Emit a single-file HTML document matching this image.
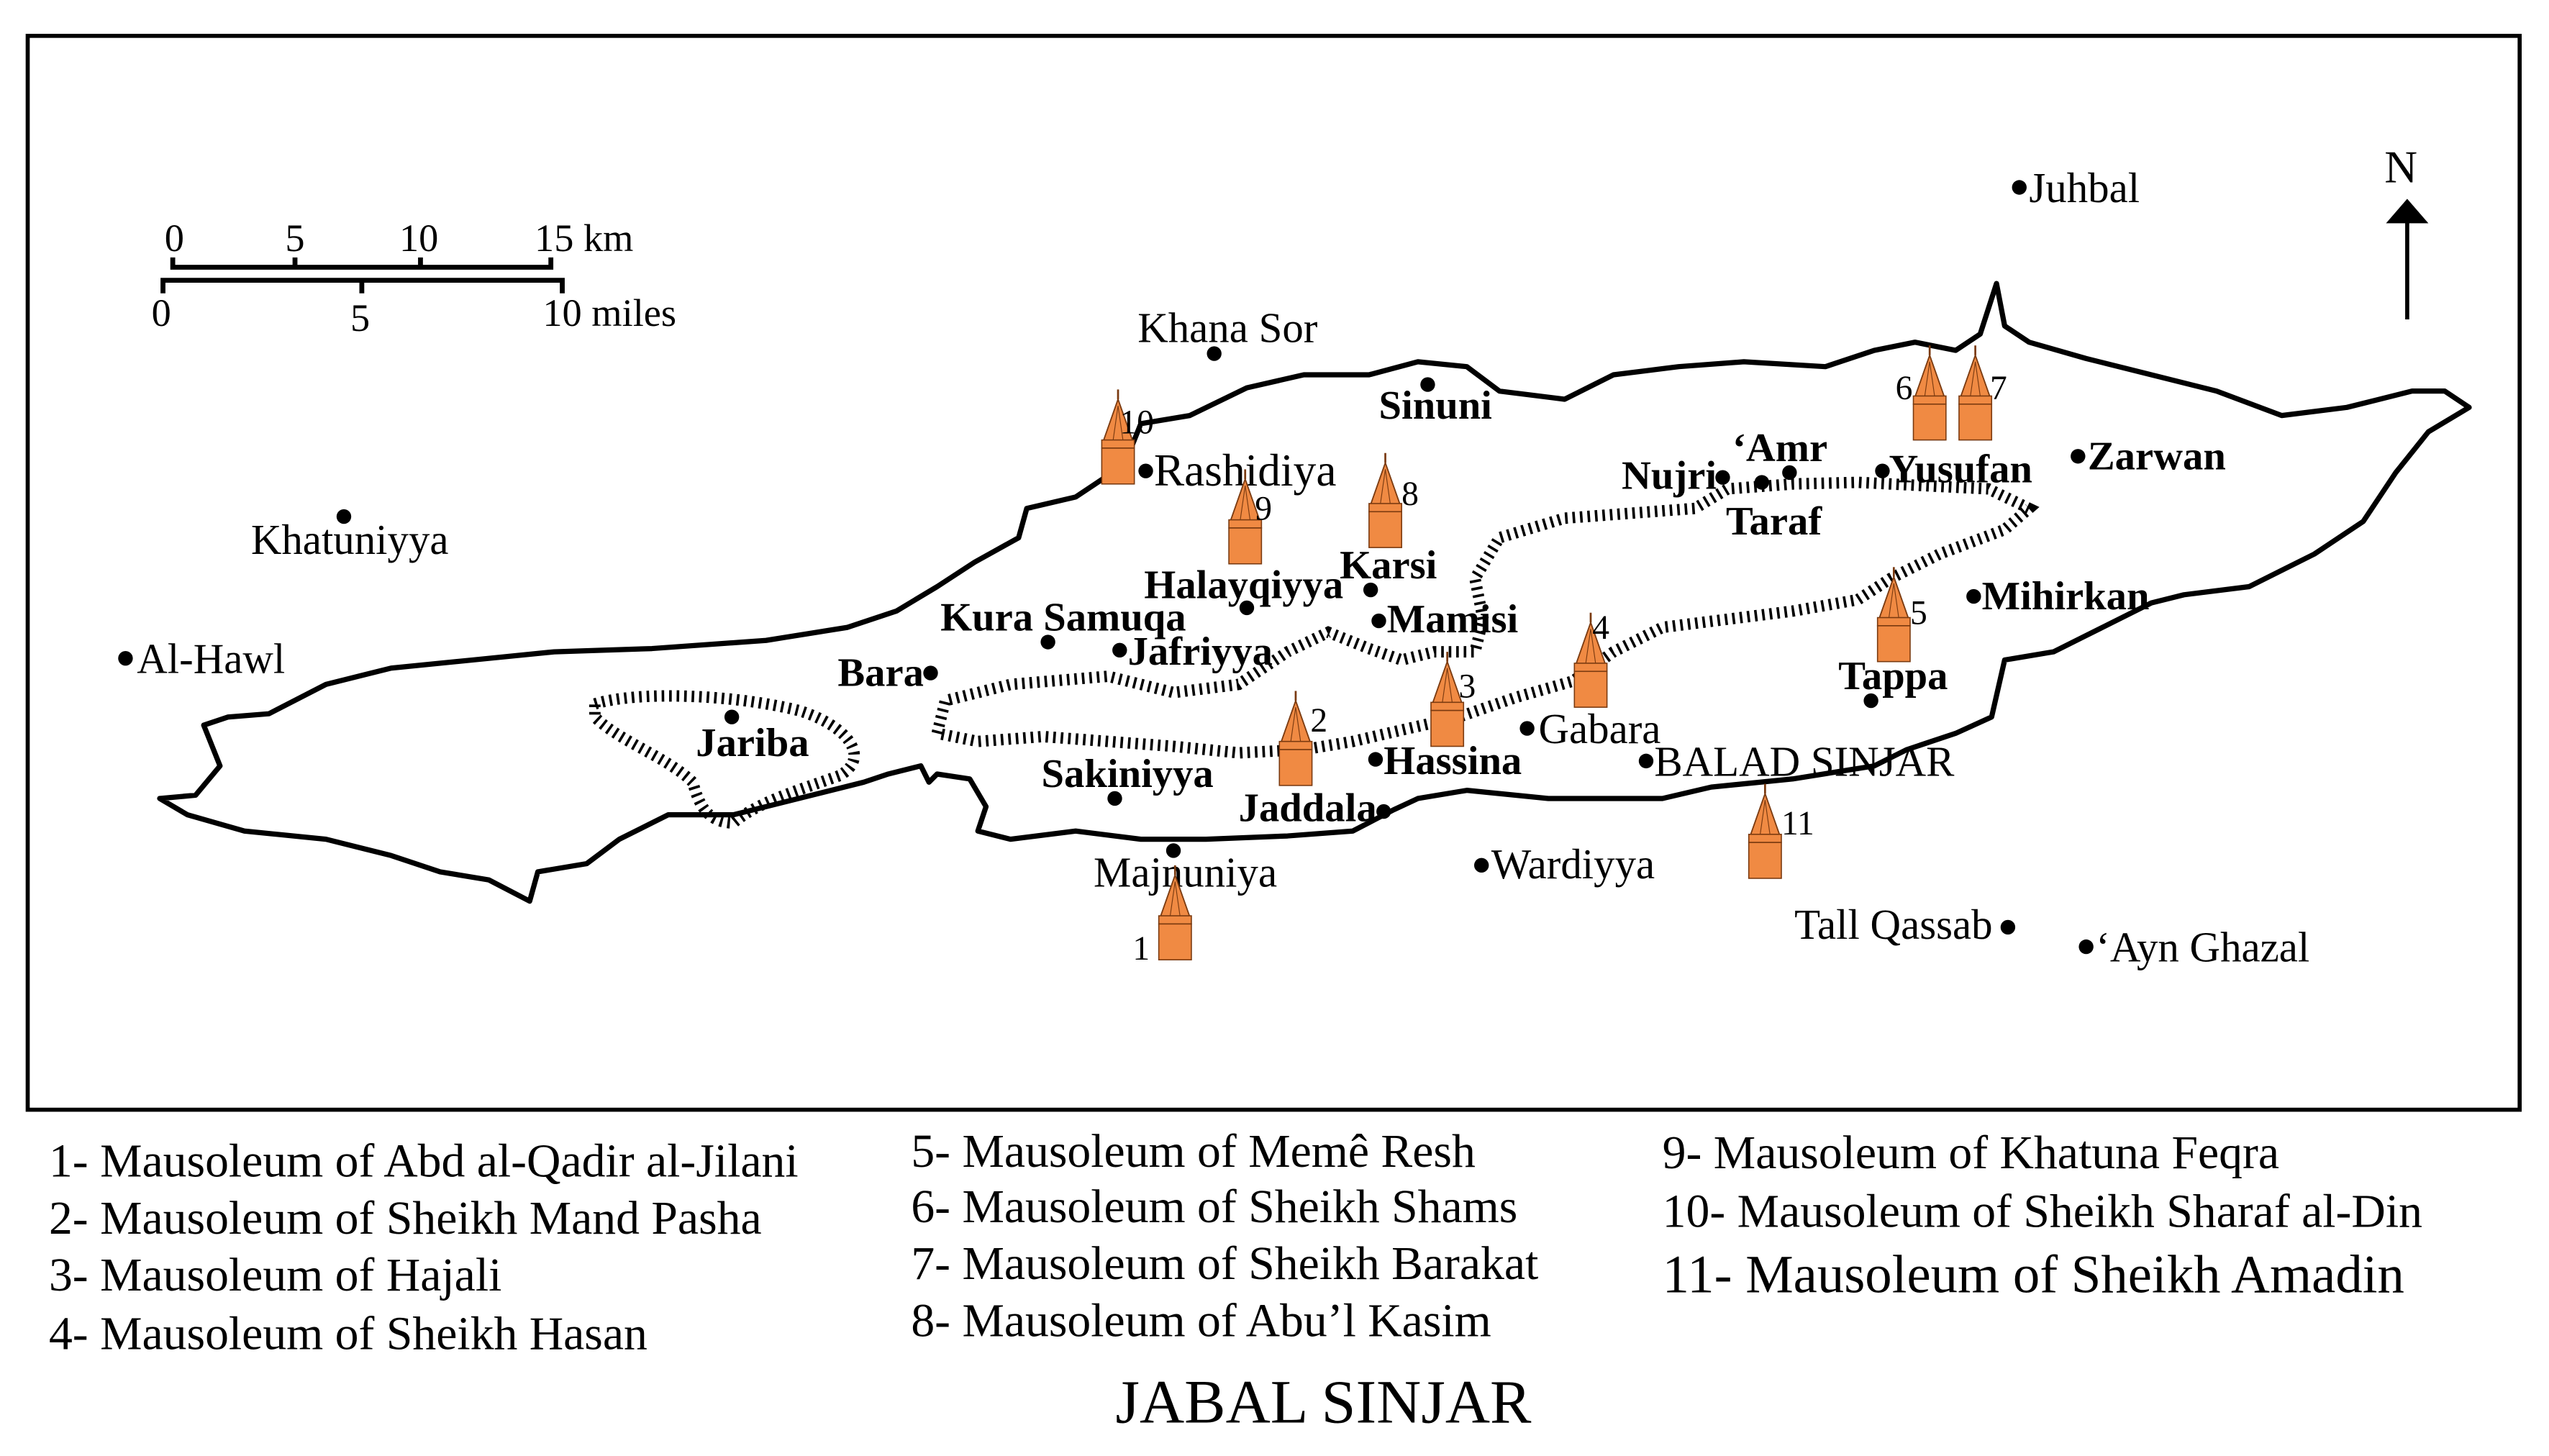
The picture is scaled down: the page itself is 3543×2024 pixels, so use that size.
<!DOCTYPE html>
<html><head><meta charset="utf-8"><style>
html,body{margin:0;padding:0;background:#fff;}
svg{display:block;}
text{font-family:"Liberation Serif",serif;fill:#000;}
.b{font-weight:bold;}
</style></head><body>
<svg width="3543" height="2024" viewBox="0 0 1564 893.5" preserveAspectRatio="none" xmlns="http://www.w3.org/2000/svg">
<defs>
<g id="m">
<polygon points="-9.5,-25 0,-52 9.5,-25" fill="#f08a43" stroke="#7a3a10" stroke-width="0.8"/>
<line x1="0" y1="-52" x2="0" y2="-58" stroke="#7a3a10" stroke-width="1.2"/>
<line x1="-3" y1="-27" x2="0" y2="-48" stroke="#7a3a10" stroke-width="0.5"/>
<line x1="3" y1="-27" x2="0" y2="-48" stroke="#7a3a10" stroke-width="0.5"/>
<rect x="-10" y="-27" width="20" height="5" fill="#f08a43" stroke="#7a3a10" stroke-width="0.7"/>
<rect x="-10" y="-22" width="20" height="22" fill="#f08a43" stroke="#7a3a10" stroke-width="0.7"/>
</g>
</defs>
<rect x="17" y="22" width="1529" height="659" fill="none" stroke="#000" stroke-width="2.5"/>

<g stroke="#000" stroke-width="3" fill="none">
<path d="M106,158 V164 H338 V158"/>
<line x1="181" y1="158" x2="181" y2="164"/>
<line x1="258" y1="158" x2="258" y2="164"/>
<path d="M100,180 V172 H345 V180"/>
<line x1="222" y1="172" x2="222" y2="180"/>
</g>
<g font-size="24">
<text x="101" y="154">0</text><text x="175" y="154">5</text><text x="245" y="154">10</text><text x="328" y="154">15 km</text>
<text x="93" y="200">0</text><text x="215" y="203">5</text><text x="333" y="200">10 miles</text>
</g>

<text x="1463" y="112" font-size="28">N</text>
<line x1="1477" y1="132" x2="1477" y2="196" stroke="#000" stroke-width="2.5"/>
<polygon points="1464,137 1477,122 1490,137" fill="#000"/>

<path fill="none" stroke="#000" stroke-width="3.2" stroke-linejoin="round" d="M98,490 L120,488 135,470 125,445 140,440 165,438 200,420 240,410 290,405 340,400 400,398 470,393 520,385 550,375 575,360 598,345 625,330 630,312 660,305 690,285 700,260 730,255 765,238 800,230 840,230 870,222 900,225 920,240 960,245 990,230 1030,225 1070,222 1120,225 1150,215 1175,210 1200,215 1215,205 1225,174 1230,200 1245,210 1280,220 1320,230 1360,240 1400,255 1440,250 1480,240 1500,240 1515,250 1490,265 1470,290 1450,320 1420,340 1380,360 1340,365 1320,370 1290,385 1260,400 1230,405 1222,440 1200,450 1170,460 1150,470 1100,478 1050,483 1020,490 950,490 900,485 870,490 855,497 830,510 790,513 740,515 700,515 660,510 620,515 600,510 605,495 595,478 575,475 570,480 565,470 545,475 530,480 490,490 450,500 410,500 380,515 360,530 330,535 325,553 300,540 270,535 240,525 200,515 150,510 115,500 Z"/>

<g fill="none" stroke="#000" stroke-width="7" stroke-dasharray="1.6 3">
<path d="M575,450 L580,430 620,420 680,415 720,425 760,420 790,400 815,388 840,398 860,405 880,400 905,400 910,380 905,355 920,330 960,318 1000,315 1040,312 1060,300 1100,297 1140,296 1180,298 1220,300 1245,312 1230,325 1190,340 1160,355 1140,368 1100,375 1060,380 1020,385 990,400 965,418 930,428 895,440 860,448 830,455 800,460 760,462 720,458 680,455 640,452 600,455 Z"/>
<path d="M365,432 C390,424 450,426 490,436 C520,445 535,465 515,476 C490,485 465,492 450,505 C432,505 428,490 425,480 C410,465 380,455 365,440 Z"/>
</g>

<g fill="#000">
<circle cx="1239" cy="115" r="4.5"/><circle cx="745" cy="217" r="4.5"/><circle cx="876" cy="236" r="4.5"/>
<circle cx="211" cy="317" r="4.5"/><circle cx="77" cy="404" r="4.5"/><circle cx="703" cy="289" r="4.5"/>
<circle cx="1057" cy="293" r="4.5"/><circle cx="1081" cy="296" r="4.5"/><circle cx="1098" cy="290" r="4.5"/>
<circle cx="1155" cy="289" r="4.5"/><circle cx="1275" cy="280" r="4.5"/><circle cx="841" cy="362" r="4.5"/>
<circle cx="765" cy="373" r="4.5"/><circle cx="846" cy="381" r="4.5"/><circle cx="643" cy="394" r="4.5"/>
<circle cx="687" cy="399" r="4.5"/><circle cx="571" cy="413" r="4.5"/><circle cx="1211" cy="366" r="4.5"/>
<circle cx="449" cy="440" r="4.5"/><circle cx="937" cy="447" r="4.5"/><circle cx="1148" cy="430" r="4.5"/>
<circle cx="844" cy="466" r="4.5"/><circle cx="1010" cy="467" r="4.5"/><circle cx="684" cy="490" r="4.5"/>
<circle cx="849" cy="498" r="4.5"/><circle cx="720" cy="522" r="4.5"/><circle cx="909" cy="531" r="4.5"/>
<circle cx="1232" cy="569" r="4.5"/><circle cx="1280" cy="581" r="4.5"/>
</g>

<g font-size="26">
<text x="1245" y="124">Juhbal</text>
<text x="698" y="210">Khana Sor</text>
<text x="154" y="340">Khatuniyya</text>
<text x="84" y="413">Al-Hawl</text>
<text x="708" y="298" font-size="28">Rashidiya</text>
<text x="944" y="456">Gabara</text>
<text x="1015" y="476">BALAD SINJAR</text>
<text x="915" y="539">Wardiyya</text>
<text x="671" y="544">Majnuniya</text>
<text x="1101" y="576">Tall Qassab</text>
<text x="1286" y="590">‘Ayn Ghazal</text>
</g>
<g font-size="25" class="b">
<text x="846" y="257">Sinuni</text>
<text x="995" y="300">Nujri</text>
<text x="1063" y="283">‘Amr</text>
<text x="1059" y="328">Taraf</text>
<text x="1159" y="296">Yusufan</text>
<text x="1281" y="288">Zarwan</text>
<text x="822" y="355">Karsi</text>
<text x="702" y="367">Halayqiyya</text>
<text x="851" y="388">Mamisi</text>
<text x="577" y="387">Kura Samuqa</text>
<text x="692" y="408">Jafriyya</text>
<text x="514" y="421">Bara</text>
<text x="1216" y="374">Mihirkan</text>
<text x="427" y="464">Jariba</text>
<text x="1128" y="423">Tappa</text>
<text x="849" y="475">Hassina</text>
<text x="639" y="483">Sakiniyya</text>
<text x="760" y="504">Jaddala</text>
</g>

<use href="#m" x="721" y="589"/><use href="#m" x="795" y="482"/><use href="#m" x="888" y="458"/>
<use href="#m" x="976" y="434"/><use href="#m" x="1162" y="406"/><use href="#m" x="1184" y="270"/>
<use href="#m" x="1212" y="270"/><use href="#m" x="850" y="336"/><use href="#m" x="764" y="346"/>
<use href="#m" x="686" y="297"/><use href="#m" x="1083" y="539"/>
<g font-size="21">
<text x="695" y="589">1</text><text x="804" y="449">2</text><text x="895" y="428">3</text>
<text x="977" y="392">4</text><text x="1172" y="383">5</text><text x="1163" y="245">6</text>
<text x="1221" y="245">7</text><text x="860" y="310">8</text><text x="770" y="319">9</text>
<text x="687" y="266">10</text><text x="1093" y="512">11</text>
</g>

<g font-size="29">
<text x="30" y="722">1- Mausoleum of Abd al-Qadir al-Jilani</text>
<text x="30" y="757">2- Mausoleum of Sheikh Mand Pasha</text>
<text x="30" y="792">3- Mausoleum of Hajali</text>
<text x="30" y="828">4- Mausoleum of Sheikh Hasan</text>
<text x="559" y="716">5- Mausoleum of Memê Resh</text>
<text x="559" y="750">6- Mausoleum of Sheikh Shams</text>
<text x="559" y="785">7- Mausoleum of Sheikh Barakat</text>
<text x="559" y="820">8- Mausoleum of Abu’l Kasim</text>
<text x="1020" y="717">9- Mausoleum of Khatuna Feqra</text>
<text x="1020" y="753">10- Mausoleum of Sheikh Sharaf al-Din</text>
<text x="1020" y="793" font-size="33">11- Mausoleum of Sheikh Amadin</text>
</g>
<text x="812" y="873" font-size="38" text-anchor="middle">JABAL SINJAR</text>
</svg>
</body></html>
